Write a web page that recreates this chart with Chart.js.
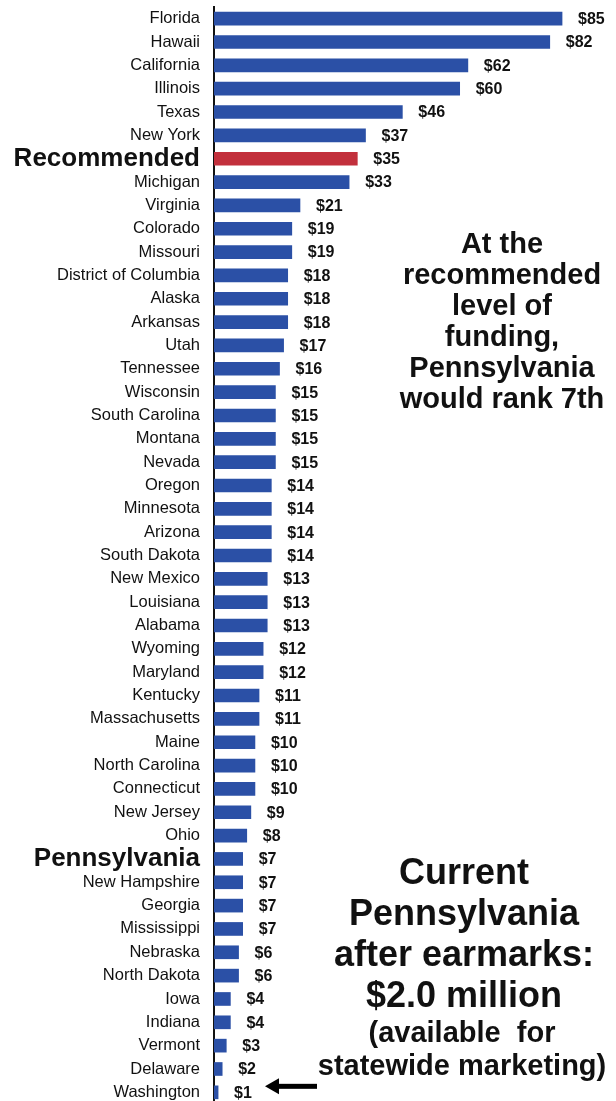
<!DOCTYPE html>
<html>
<head>
<meta charset="utf-8">
<script src="https://cdn.jsdelivr.net/npm/chart.js@4.4.0/dist/chart.umd.min.js"></script>
<style>
  html, body { margin: 0; padding: 0; background: #fff; overflow: hidden; }
  #wrap { width: 616px; height: 1104px; position: relative; }
</style>
</head>
<body>
<div id="wrap"><canvas id="grafico"></canvas></div>
<script>
// datos del grafico
const estados = [
  "Florida", "Hawaii", "California", "Illinois", "Texas", "New York", "Recommended",
  "Michigan", "Virginia", "Colorado", "Missouri", "District of Columbia", "Alaska",
  "Arkansas", "Utah", "Tennessee", "Wisconsin", "South Carolina", "Montana", "Nevada",
  "Oregon", "Minnesota", "Arizona", "South Dakota", "New Mexico", "Louisiana", "Alabama",
  "Wyoming", "Maryland", "Kentucky", "Massachusetts", "Maine", "North Carolina",
  "Connecticut", "New Jersey", "Ohio", "Pennsylvania", "New Hampshire", "Georgia",
  "Mississippi", "Nebraska", "North Dakota", "Iowa", "Indiana", "Vermont", "Delaware",
  "Washington"
];
const valores = [
  85, 82, 62, 60, 46, 37, 35,
  33, 21, 19, 19, 18, 18,
  18, 17, 16, 15, 15, 15, 15,
  14, 14, 14, 14, 13, 13, 13,
  12, 12, 11, 11, 10, 10,
  10, 9, 8, 7, 7, 7,
  7, 6, 6, 4, 4, 3, 2,
  1
];
const destacados = ["Recommended", "Pennsylvania"];

const notaRanking = ["At the", "recommended", "level of", "funding,", "Pennsylvania", "would rank 7th"];
const notaActual = ["Current", "Pennsylvania", "after earmarks:", "$2.0 million"];
const notaActualSub = ["(available  for", "statewide marketing)"];

const FUENTE = '"Liberation Sans", Arial, Helvetica, sans-serif';

// etiquetas de valor, textos y flecha
const extras = {
  id: "extras",
  afterDatasetsDraw(chart) {
    const ctx = chart.ctx;
    const meta = chart.getDatasetMeta(0);
    ctx.save();
    ctx.fillStyle = "#111";
    ctx.textBaseline = "middle";
    ctx.textAlign = "left";
    ctx.font = "bold 16px " + FUENTE;
    meta.data.forEach((bar, i) => {
      ctx.fillText("$" + valores[i], bar.x + 16, bar.y + 1);
    });

    ctx.textAlign = "center";
    ctx.font = "bold 29px " + FUENTE;
    notaRanking.forEach((t, i) => ctx.fillText(t, 502, 245 + i * 31));

    ctx.font = "bold 36px " + FUENTE;
    notaActual.forEach((t, i) => ctx.fillText(t, 464, 874 + i * 41));
    ctx.font = "bold 29px " + FUENTE;
    notaActualSub.forEach((t, i) => ctx.fillText(t, 462, 1034 + i * 33));

    // flecha hacia Washington
    const w = meta.data[meta.data.length - 1];
    const yf = w.y - 6;
    ctx.fillStyle = "#000";
    ctx.fillRect(276, yf - 2.5, 41, 5);
    ctx.beginPath();
    ctx.moveTo(265, yf);
    ctx.lineTo(279, yf - 8);
    ctx.lineTo(279, yf + 8);
    ctx.closePath();
    ctx.fill();
    ctx.restore();
  }
};

new Chart(document.getElementById("grafico"), {
  type: "bar",
  data: {
    labels: estados,
    datasets: [{
      data: valores,
      backgroundColor: c => estados[c.dataIndex] === "Recommended" ? "#c2303c" : "#2b50a6",
      barThickness: 13,
      borderWidth: 0
    }]
  },
  options: {
    indexAxis: "y",
    responsive: true,
    maintainAspectRatio: false,
    animation: false,
    layout: { padding: { top: 7, bottom: 0, left: 0, right: 13 } },
    plugins: {
      legend: { display: false },
      tooltip: { enabled: false }
    },
    scales: {
      x: {
        display: false,
        min: 0,
        max: 95
      },
      y: {
        afterFit: s => {
          s.width = 214;
          s.paddingTop = 0;
          s.paddingBottom = 0;
        },
        grid: { display: false, drawTicks: false },
        border: { display: true, color: "#111", width: 2 },
        ticks: {
          padding: 14,
          color: "#111",
          autoSkip: false,
          font: c => destacados.includes(estados[c.index])
            ? { family: FUENTE, size: 26, weight: "bold" }
            : { family: FUENTE, size: 16.5 }
        }
      }
    }
  },
  plugins: [extras]
});
</script>
</body>
</html>
